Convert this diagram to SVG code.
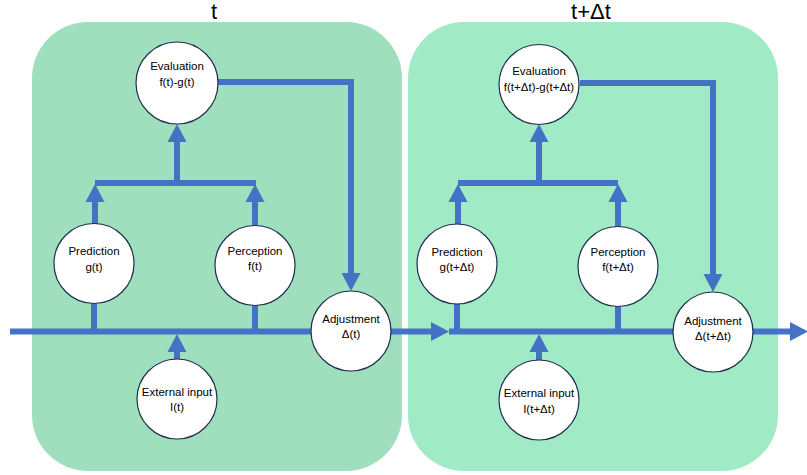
<svg xmlns="http://www.w3.org/2000/svg" width="807" height="475" viewBox="0 0 807 475">
<defs>
<style>
.panel{stroke:none}
.node circle{fill:#fff;stroke:#1F2D4E;stroke-width:1.2}
.node text{font-family:"Liberation Sans",Arial,sans-serif;font-size:11.5px;fill:#000;text-anchor:middle}
.title{font-family:"Liberation Sans",Arial,sans-serif;font-size:22px;fill:#000;text-anchor:middle}
.conn path{fill:none;stroke:#4472C4;stroke-width:6;stroke-linejoin:miter}
.arr{marker-end:url(#ah)}
</style>
<marker id="ah" markerUnits="userSpaceOnUse" viewBox="0 -10 18 20" markerWidth="18" markerHeight="20" refX="0" refY="0" orient="auto" overflow="visible">
<path d="M0,-9.5 L18,0 L0,9.5 z" fill="#4472C4"/>
</marker>
</defs>
<rect class="panel" x="32" y="22" width="370" height="449" rx="56" ry="56" fill="#9FDFBD"/>
<rect class="panel" x="408" y="22" width="370" height="449" rx="56" ry="56" fill="#A0EBC6"/>
<text class="title" x="214" y="19">t</text>
<text class="title" x="591" y="19">t+Δt</text>
<g id="connectors" class="conn">
<path class="arr" d="M10,331.5 H431"/>
<path class="arr" d="M449,331.5 H790"/>
<path d="M94,303 V331"/>
<path d="M255,305 V331"/>
<path class="arr" d="M95,224 V202"/>
<path class="arr" d="M255,226 V202"/>
<path d="M95,183 H256"/>
<path class="arr" d="M177,183 V142"/>
<path class="arr" d="M218,82 H351 V273"/>
<path class="arr" d="M177,359 V352"/>
<path d="M457,303 V332"/>
<path d="M618,306 V332"/>
<path class="arr" d="M458,225 V202"/>
<path class="arr" d="M618,227 V202"/>
<path d="M458,183 H618"/>
<path class="arr" d="M539,183 V142"/>
<path class="arr" d="M580,83 H713 V274"/>
<path class="arr" d="M539,361 V352"/>
</g>
<g id="eval-t" class="node"><circle cx="177" cy="83" r="41"/><text x="177" y="70">Evaluation</text><text x="177" y="86">f(t)-g(t)</text></g>
<g id="pred-t" class="node"><circle cx="94" cy="263.5" r="40"/><text x="94" y="255">Prediction</text><text x="94" y="271">g(t)</text></g>
<g id="perc-t" class="node"><circle cx="255" cy="265.5" r="40"/><text x="255" y="255">Perception</text><text x="255" y="270">f(t)</text></g>
<g id="adj-t" class="node"><circle cx="351" cy="331" r="40"/><text x="351" y="323">Adjustment</text><text x="351" y="338">Δ(t)</text></g>
<g id="ext-t" class="node"><circle cx="177" cy="399" r="40"/><text x="177" y="396">External input</text><text x="177" y="411">I(t)</text></g>
<g id="eval-dt" class="node"><circle cx="539" cy="84.5" r="40"/><text x="539" y="75">Evaluation</text><text x="539" y="91">f(t+Δt)-g(t+Δt)</text></g>
<g id="pred-dt" class="node"><circle cx="457" cy="264" r="40"/><text x="457" y="256">Prediction</text><text x="457" y="271">g(t+Δt)</text></g>
<g id="perc-dt" class="node"><circle cx="618" cy="266.5" r="40"/><text x="618" y="256">Perception</text><text x="618" y="271">f(t+Δt)</text></g>
<g id="adj-dt" class="node"><circle cx="713" cy="332" r="40"/><text x="713" y="325">Adjustment</text><text x="713" y="340">Δ(t+Δt)</text></g>
<g id="ext-dt" class="node"><circle cx="539" cy="400" r="40"/><text x="539" y="397">External input</text><text x="539" y="413">I(t+Δt)</text></g>
</svg>
